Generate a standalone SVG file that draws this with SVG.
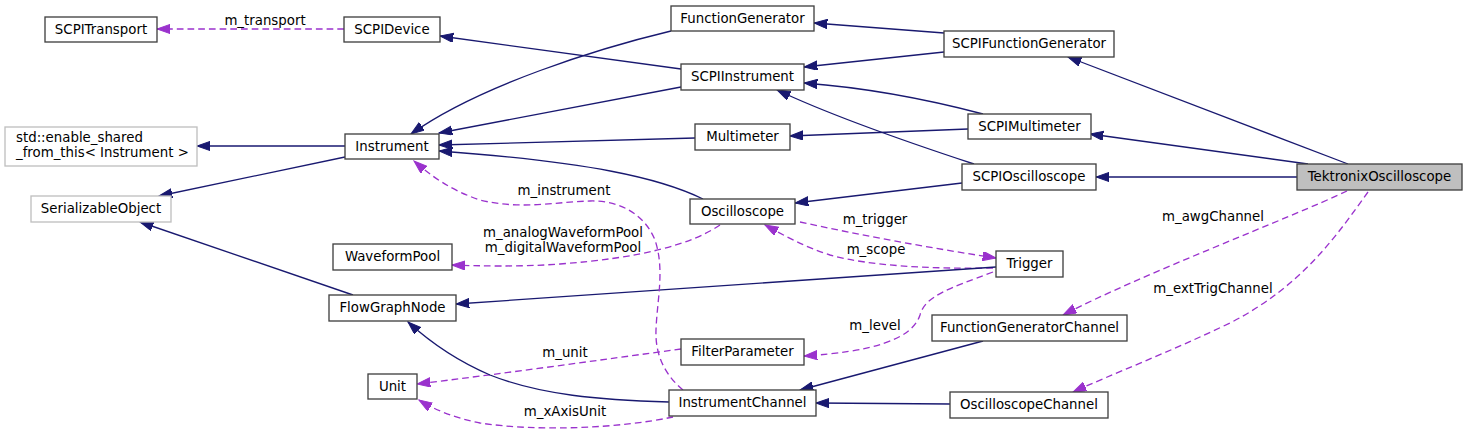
<svg xmlns="http://www.w3.org/2000/svg" width="1467" height="434" viewBox="0 0 1467 434">
<style>
  .n rect { fill: #ffffff; stroke: #404040; stroke-width: 1.33; }
  .g rect { fill: #ffffff; stroke: #bfbfbf; stroke-width: 1.33; }
  .cur rect { fill: #bfbfbf; stroke: #404040; stroke-width: 1.33; }
  text { font-family: "DejaVu Sans", "Liberation Sans", sans-serif; font-size: 13.33px; fill: #000000; }
  .c { text-anchor: middle; }
  .inh { fill: none; stroke: #191970; stroke-width: 1.33; marker-end: url(#ah); }
  .use { fill: none; stroke: #9a32cd; stroke-width: 1.33; stroke-dasharray: 6.7,4; marker-end: url(#au); }
</style>
<defs>
  <marker id="ah" markerUnits="userSpaceOnUse" markerWidth="14" markerHeight="10" refX="13.3" refY="4.67" orient="auto">
    <path d="M0,0 L13.3,4.67 L0,9.33 z" fill="#191970" stroke="#191970" stroke-width="1"/>
  </marker>
  <marker id="au" markerUnits="userSpaceOnUse" markerWidth="14" markerHeight="10" refX="13.3" refY="4.67" orient="auto">
    <path d="M0,0 L13.3,4.67 L0,9.33 z" fill="#9a32cd" stroke="#9a32cd" stroke-width="1"/>
  </marker>
</defs>
<rect width="1467" height="434" fill="#ffffff"/>

<g id="connectors">
  <path class="use" d="M344,29 L157,29"/>
  <path class="inh" d="M681,69 L440,36"/>
  <path class="inh" d="M671,31 C600,48 480,85 411,134"/>
  <path class="inh" d="M681,87 L439,133"/>
  <path class="inh" d="M695,138 L439,145"/>
  <path class="inh" d="M703,199 C660,178 590,162 439,151"/>
  <path class="inh" d="M345,146 L197,146"/>
  <path class="inh" d="M345,157 L159,196"/>
  <path class="inh" d="M353,295 L140,222"/>
  <path class="inh" d="M944,33 L814,23"/>
  <path class="inh" d="M944,52 L804,67"/>
  <path class="inh" d="M983,114 C930,100 870,88 804,83"/>
  <path class="inh" d="M968,129 L790,136"/>
  <path class="inh" d="M974,164 C910,143 830,115 777,90"/>
  <path class="inh" d="M962,183 L795,203"/>
  <path class="inh" d="M1348,164 L1068,57"/>
  <path class="inh" d="M1308,164 L1090,134"/>
  <path class="inh" d="M1297,177 L1096,177"/>
  <path class="use" d="M1347,191 C1290,218 1140,275 1063,315"/>
  <path class="use" d="M1368,192 C1337,235 1303,285 1232,322 C1170,352 1110,375 1073,392"/>
  <path class="use" d="M800,222 C860,235 930,248 996,258"/>
  <path class="use" d="M993,268 C930,269 870,266 830,255 C805,247 785,236 765,225"/>
  <path class="inh" d="M996,267 L456,304"/>
  <path class="use" d="M993,272 C950,288 925,296 920,315 C912,340 870,352 804,356"/>
  <path class="use" d="M720,225 C690,245 640,258 560,264 C520,267 480,266 452,265"/>
  <path class="use" d="M683,390 C665,375 655,355 656,330 C657,300 665,270 655,240 C645,215 620,200 590,201 C555,202 520,210 480,200 C450,190 430,175 414,161"/>
  <path class="use" d="M681,349 C600,360 500,374 417,384"/>
  <path class="use" d="M673,417 C620,428 540,432 480,423 C455,418 435,410 419,400"/>
  <path class="inh" d="M669,402 C600,400 540,395 490,375 C455,360 430,342 408,322"/>
  <path class="inh" d="M983,341 L800,390"/>
  <path class="inh" d="M950,404 L816,403"/>

  <text class="c" x="265" y="25">m_transport</text>
  <text class="c" x="564" y="195">m_instrument</text>
  <text class="c" x="563" y="237">m_analogWaveformPool</text>
  <text class="c" x="563" y="252">m_digitalWaveformPool</text>
  <text class="c" x="565" y="357">m_unit</text>
  <text class="c" x="565" y="416">m_xAxisUnit</text>
  <text class="c" x="875" y="224">m_trigger</text>
  <text class="c" x="876" y="254">m_scope</text>
  <text class="c" x="875" y="330">m_level</text>
  <text class="c" x="1213" y="221">m_awgChannel</text>
  <text class="c" x="1213" y="293">m_extTrigChannel</text>
</g>

<g id="SCPITransport" class="n"><rect x="45" y="17" width="112" height="25"/><text class="c" x="101" y="34">SCPITransport</text></g>
<g id="SCPIDevice" class="n"><rect x="344" y="17" width="96" height="25"/><text class="c" x="392" y="34">SCPIDevice</text></g>
<g id="enable_shared_from_this" class="g"><rect x="5" y="127" width="192" height="39"/><text x="16" y="142">std::enable_shared</text><text x="16" y="157">_from_this&lt; Instrument &gt;</text></g>
<g id="Instrument" class="n"><rect x="345" y="134" width="94" height="25"/><text class="c" x="392" y="151">Instrument</text></g>
<g id="SerializableObject" class="g"><rect x="31" y="196" width="140" height="26"/><text class="c" x="101" y="213">SerializableObject</text></g>
<g id="FunctionGenerator" class="n"><rect x="671" y="6" width="143" height="25"/><text class="c" x="742.5" y="23">FunctionGenerator</text></g>
<g id="SCPIInstrument" class="n"><rect x="681" y="64" width="123" height="26"/><text class="c" x="742.5" y="81">SCPIInstrument</text></g>
<g id="SCPIFunctionGenerator" class="n"><rect x="944" y="31" width="170" height="26"/><text class="c" x="1029" y="48">SCPIFunctionGenerator</text></g>
<g id="Multimeter" class="n"><rect x="695" y="124" width="95" height="26"/><text class="c" x="742.5" y="141">Multimeter</text></g>
<g id="SCPIMultimeter" class="n"><rect x="968" y="114" width="123" height="25"/><text class="c" x="1029.5" y="131">SCPIMultimeter</text></g>
<g id="Oscilloscope" class="n"><rect x="690" y="199" width="105" height="25"/><text class="c" x="742.5" y="216">Oscilloscope</text></g>
<g id="SCPIOscilloscope" class="n"><rect x="962" y="164" width="134" height="26"/><text class="c" x="1029" y="181">SCPIOscilloscope</text></g>
<g id="TektronixOscilloscope" class="cur"><rect x="1297" y="164" width="165" height="26"/><text class="c" x="1379.5" y="181">TektronixOscilloscope</text></g>
<g id="WaveformPool" class="n"><rect x="333" y="244" width="119" height="26"/><text class="c" x="392.5" y="261">WaveformPool</text></g>
<g id="FlowGraphNode" class="n"><rect x="329" y="295" width="127" height="26"/><text class="c" x="392.5" y="312">FlowGraphNode</text></g>
<g id="Trigger" class="n"><rect x="996" y="251" width="67" height="26"/><text class="c" x="1029.5" y="268">Trigger</text></g>
<g id="FilterParameter" class="n"><rect x="681" y="339" width="123" height="26"/><text class="c" x="742.5" y="356">FilterParameter</text></g>
<g id="FunctionGeneratorChannel" class="n"><rect x="932" y="315" width="195" height="26"/><text class="c" x="1029.5" y="332">FunctionGeneratorChannel</text></g>
<g id="Unit" class="n"><rect x="368" y="374" width="49" height="25"/><text class="c" x="392.5" y="391">Unit</text></g>
<g id="InstrumentChannel" class="n"><rect x="669" y="390" width="147" height="26"/><text class="c" x="742.5" y="407">InstrumentChannel</text></g>
<g id="OscilloscopeChannel" class="n"><rect x="950" y="392" width="158" height="26"/><text class="c" x="1029" y="409">OscilloscopeChannel</text></g>
</svg>
